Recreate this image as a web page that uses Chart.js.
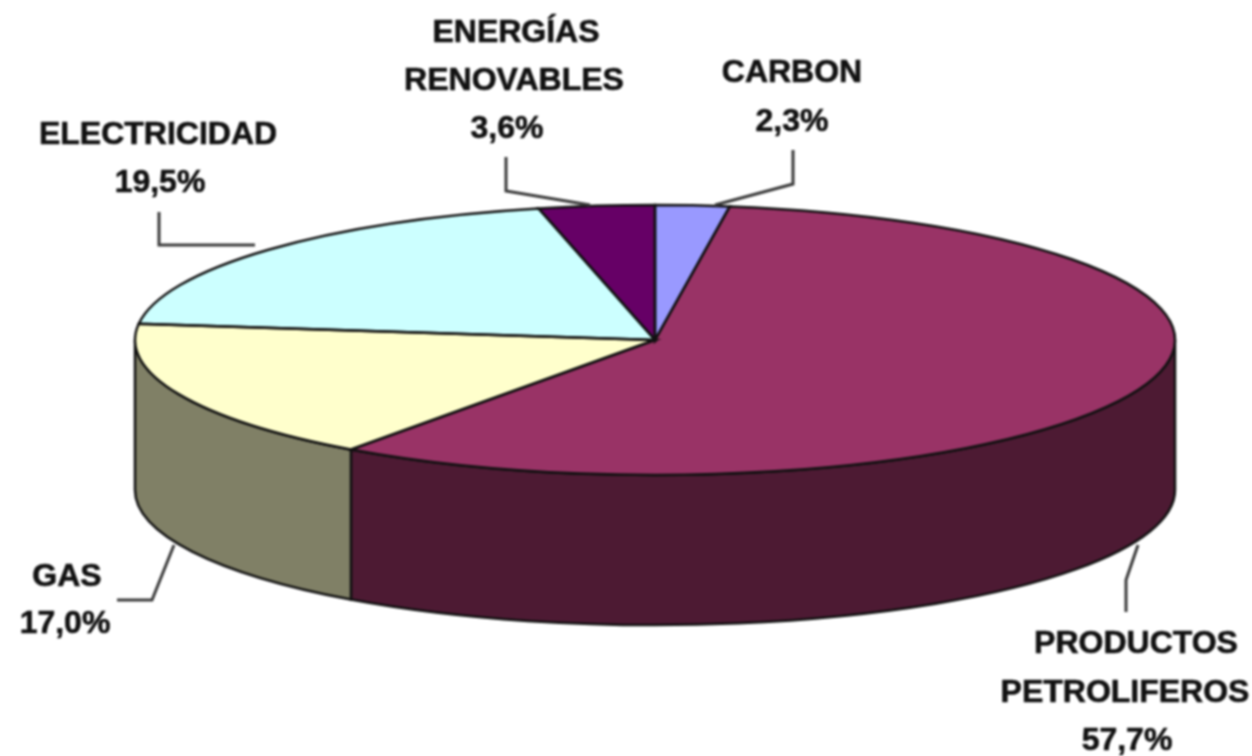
<!DOCTYPE html>
<html lang="es">
<head>
<meta charset="utf-8">
<title>Consumo de energía</title>
<style>
  html, body { margin: 0; padding: 0; background: #fff; overflow: hidden; }
  canvas { display: block; filter: blur(0.8px); }
</style>
<script src="https://cdn.jsdelivr.net/npm/chart.js@4/dist/chart.umd.min.js"></script>
</head>
<body>
<canvas id="pie" width="1252" height="756"></canvas>
<script>
'use strict';

// ── Data ─────────────────────────────────────────────────────────────────────

const categories = [['CARBON'], ['PRODUCTOS', 'PETROLIFEROS'], ['GAS'], ['ELECTRICIDAD'], ['ENERGÍAS', 'RENOVABLES']];
const shares = [2.3, 57.7, 17.0, 19.5, 3.6];
const shareLabels = ['2,3%', '57,7%', '17,0%', '19,5%', '3,6%'];

// ── Style ────────────────────────────────────────────────────────────────────

const topColors = ['#9999ff', '#993366', '#ffffcc', '#ccffff', '#660066'];
const sideColors = ['#4d4d80', '#4d1a33', '#808066', '#668080', '#330033'];

const RADIUS = 520;
const SQUASH = 135 / 520;
const DEPTH = 150;

// centre x and baseline y for each text line of a slice's label
const labelSpots = [
  [[792, 82], [792, 131]],
  [[1136, 653], [1125, 702], [1127, 750]],
  [[67, 586], [65, 633]],
  [[158, 144], [160, 192]],
  [[516, 42], [514, 90], [507, 138]]
];

const leaderLines = [
  [[793, 150], [793, 184], [715, 205]],
  [[1138, 545], [1126, 580], [1126, 612]],
  [[174, 545], [152, 600], [117, 600]],
  [[159, 212], [159, 245], [255, 245]],
  [[506, 157], [506, 191], [590, 205]]
];

// ── 3D pie plugin ────────────────────────────────────────────────────────────

function sidePath(ctx, arc, from, to) {
  const ry = arc.outerRadius * SQUASH;
  ctx.beginPath();
  ctx.ellipse(arc.x, arc.y, arc.outerRadius, ry, 0, from, to);
  ctx.ellipse(arc.x, arc.y + DEPTH, arc.outerRadius, ry, 0, to, from, true);
  ctx.closePath();
}

const tiltedPie = {
  id: 'tiltedPie',
  beforeDatasetsDraw(chart) {
    const ctx = chart.ctx;
    const arcs = chart.getDatasetMeta(0).data;

    // walls, only the part of each slice facing the viewer
    arcs.forEach((arc, i) => {
      const from = Math.max(arc.startAngle, 0);
      const to = Math.min(arc.endAngle, Math.PI);
      if (to <= from) return;
      sidePath(ctx, arc, from, to);
      ctx.fillStyle = sideColors[i];
      ctx.fill();
      ctx.lineWidth = 2.5;
      ctx.strokeStyle = '#111';
      ctx.stroke();
    });

    // flatten the pie itself
    const { x, y } = arcs[0];
    ctx.save();
    ctx.translate(x, y);
    ctx.scale(1, SQUASH);
    ctx.translate(-x, -y);
  },
  afterDatasetsDraw(chart) {
    const ctx = chart.ctx;
    ctx.restore();

    const arcs = chart.getDatasetMeta(0).data;
    ctx.lineWidth = 2.5;
    ctx.strokeStyle = '#111';
    arcs.forEach(arc => {
      ctx.beginPath();
      ctx.moveTo(arc.x, arc.y);
      ctx.ellipse(arc.x, arc.y, arc.outerRadius, arc.outerRadius * SQUASH, 0, arc.startAngle, arc.endAngle);
      ctx.closePath();
      ctx.stroke();
    });

    ctx.strokeStyle = '#3a3a3a';
    ctx.lineWidth = 3;
    leaderLines.forEach(pts => {
      ctx.beginPath();
      pts.forEach(([px, py], i) => (i ? ctx.lineTo(px, py) : ctx.moveTo(px, py)));
      ctx.stroke();
    });

    ctx.fillStyle = '#111';
    ctx.strokeStyle = '#111';
    ctx.lineWidth = 0.6;
    ctx.font = 'bold 32px "Liberation Sans", Arial, sans-serif';
    ctx.textAlign = 'center';
    ctx.textBaseline = 'alphabetic';
    categories.forEach((name, i) => {
      [...name, shareLabels[i]].forEach((text, j) => {
        const [tx, ty] = labelSpots[i][j];
        ctx.fillText(text, tx, ty);
        ctx.strokeText(text, tx, ty);
      });
    });
  }
};

// ── Chart ────────────────────────────────────────────────────────────────────

new Chart(document.getElementById('pie').getContext('2d'), {
  type: 'pie',
  data: {
    labels: categories.map(name => name.join(' ')),
    datasets: [{
      data: shares,
      backgroundColor: topColors,
      borderWidth: 0,
      clip: false
    }]
  },
  options: {
    responsive: false,
    animation: false,
    events: [],
    radius: RADIUS,
    layout: { padding: { left: 58, bottom: 76 } },
    plugins: {
      legend: { display: false },
      tooltip: { enabled: false },
      title: { display: false }
    }
  },
  plugins: [tiltedPie]
});
</script>
</body>
</html>
